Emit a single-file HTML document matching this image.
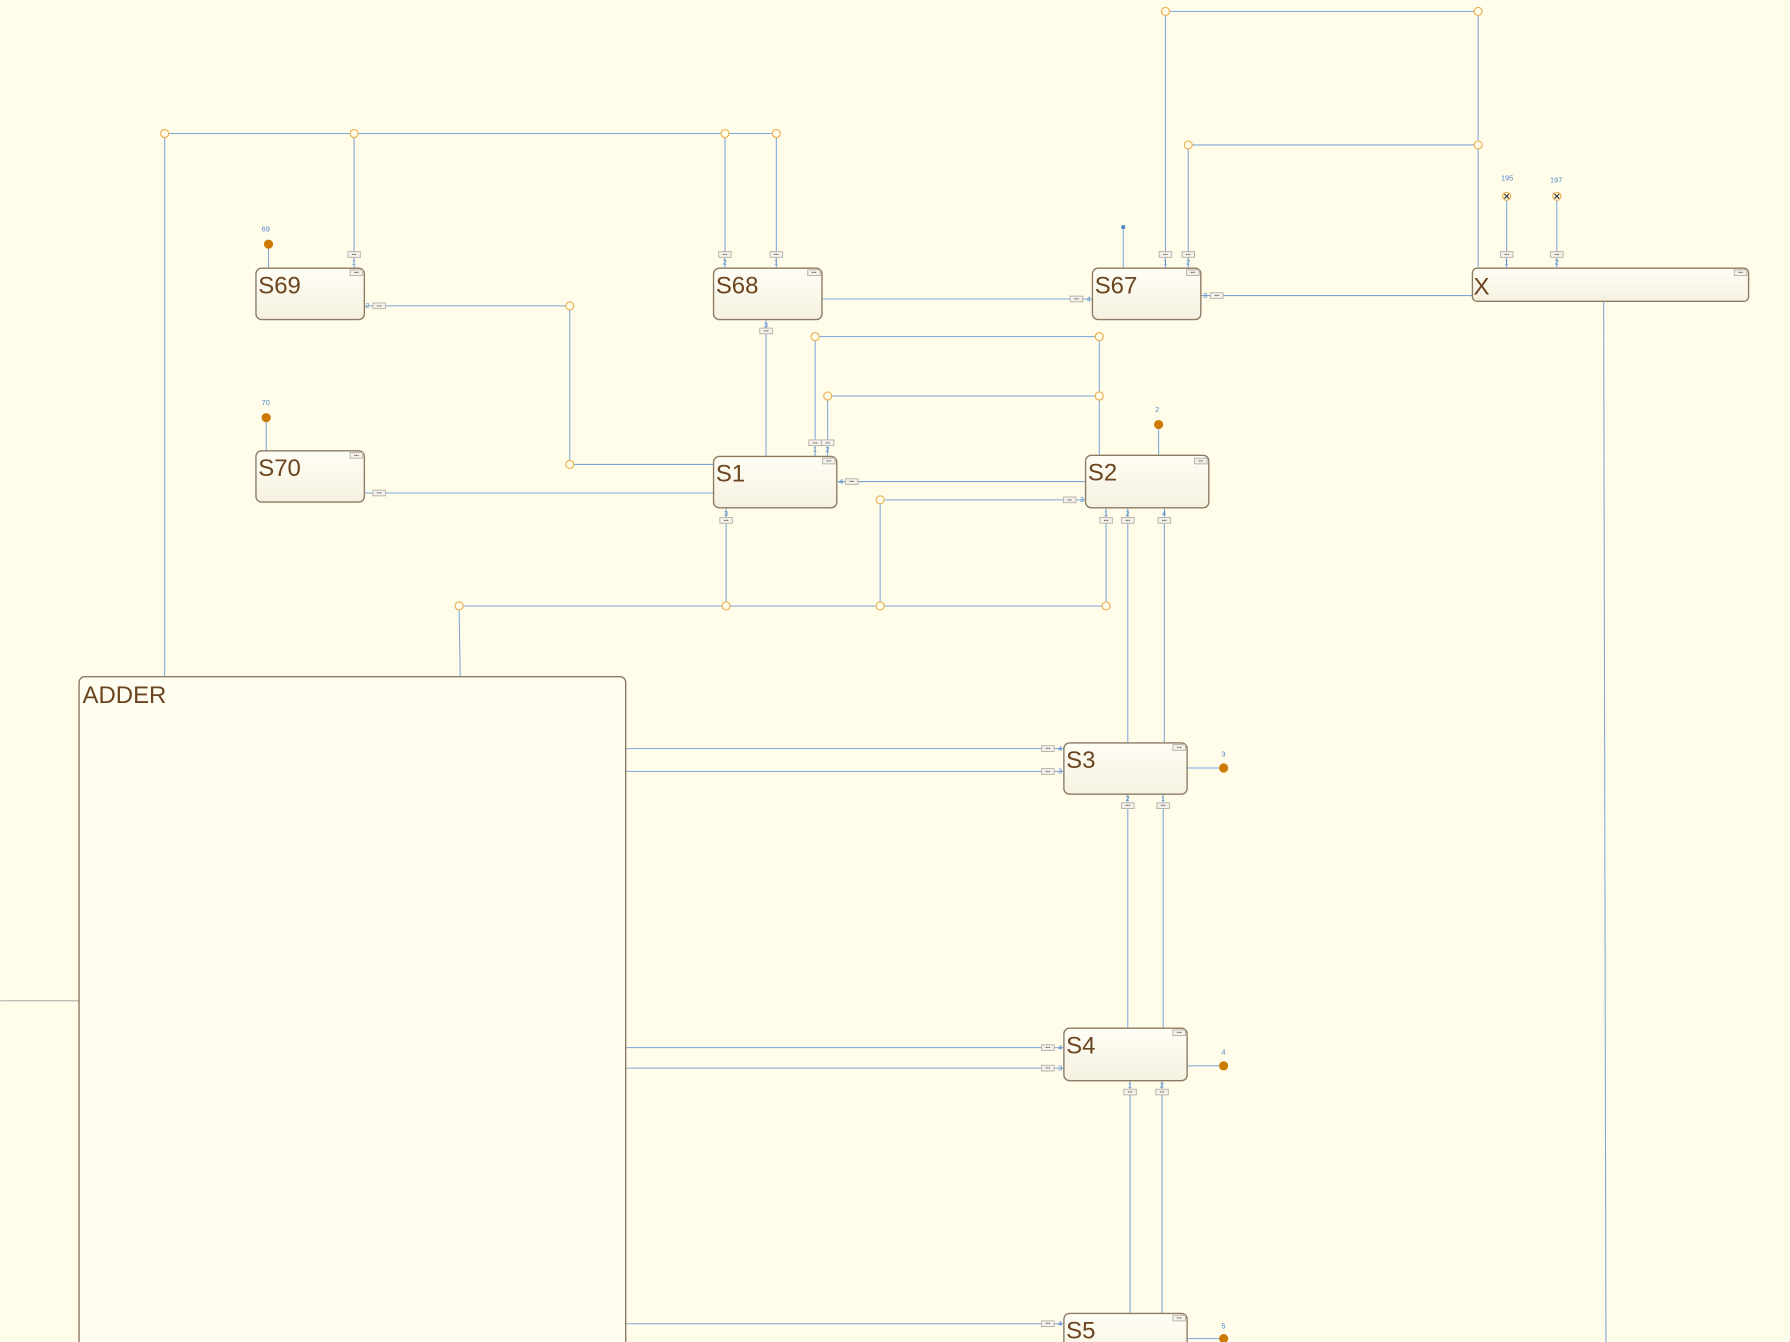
<!DOCTYPE html>
<html><head><meta charset="utf-8"><style>
html,body{margin:0;padding:0;background:#fffcea;}
svg{display:block}
.st{fill:url(#g);stroke:#8c7b63;stroke-width:1.2}
.t{font-family:"Liberation Sans",sans-serif;fill:#6b4420;font-size:21px}
.l{stroke:#7aa6d8;stroke-width:0.9;fill:none}
.j{fill:#fffcea;stroke:#e8b050;stroke-width:1}
.d{fill:#cc7a00}
.n{font-family:"Liberation Sans",sans-serif;fill:#4f86c6;font-size:6.5px}
</style></head><body>
<svg width="1790" height="1342" viewBox="0 0 1568 1176">
<defs>
<linearGradient id="g" x1="0" y1="0" x2="0" y2="1"><stop offset="0" stop-color="#fffef5"/><stop offset="1" stop-color="#f5f1e0"/></linearGradient>
<g id="b"><rect x="-5.5" y="-2.5" width="11" height="5" fill="#f4f0ea" stroke="#b8b0a8" stroke-width="0.8"/><text x="0" y="1.3" font-size="4" text-anchor="middle" fill="#666" font-family="Liberation Sans,sans-serif">•••</text></g>
</defs>
<rect width="1568" height="1176" fill="#fffcea"/>
<line x1="0" y1="877" x2="69" y2="877" stroke="#9a9a9a" stroke-width="0.8"/>
<g class="l">
<path d="M144 117V593M144 117H680M310 117V235M635 117V235M680 117V235"/>
<path d="M319 268H499V407H625M319 432H625M671 280V400"/>
<path d="M714 400V295H963V399M725 400V347H963M733 422H951"/>
<path d="M951 438H771V531M636 445V531M402 531H969M969 445V531M402 531L403 593"/>
<path d="M988 445V651M1020 445V651M932 656H548M932 676H548M1040 673H1072"/>
<path d="M988 696V901M1019 696V901M932 918H548M932 936H548M1040 934H1072"/>
<path d="M990 947V1176M1018 947V1176M932 1160H548M1040 1173H1072"/>
<path d="M720 262H957M1052 259H1290M1021 235V10H1295V235M1041 235V127H1295"/>
<path d="M1320 172V235M1364 172V235M1405 264L1407 1176M984 199V235M235 214V235M233 366V395M1015 372V399"/>
</g>
<rect x="69" y="593" width="479" height="620" rx="5" fill="#fffdf0" stroke="#8c7b63" stroke-width="1.2"/>
<text class="t" x="72" y="616">ADDER</text>
<rect class="st" x="224" y="235" width="95" height="45" rx="5"/><text class="t" x="226" y="257">S69</text>
<rect class="st" x="625" y="235" width="95" height="45" rx="5"/><text class="t" x="627" y="257">S68</text>
<rect class="st" x="957" y="235" width="95" height="45" rx="5"/><text class="t" x="959" y="257">S67</text>
<rect class="st" x="1290" y="235" width="242" height="29" rx="4"/><text class="t" x="1291" y="258">X</text>
<rect class="st" x="224" y="395" width="95" height="45" rx="5"/><text class="t" x="226" y="417">S70</text>
<rect class="st" x="625" y="400" width="108" height="45" rx="5"/><text class="t" x="627" y="422">S1</text>
<rect class="st" x="951" y="399" width="108" height="46" rx="5"/><text class="t" x="953" y="421">S2</text>
<rect class="st" x="932" y="651" width="108" height="45" rx="5"/><text class="t" x="934" y="673">S3</text>
<rect class="st" x="932" y="901" width="108" height="46" rx="5"/><text class="t" x="934" y="923">S4</text>
<rect class="st" x="932" y="1151" width="108" height="45" rx="5"/><text class="t" x="934" y="1173">S5</text>
<use href="#b" x="312" y="239"/><use href="#b" x="713" y="239"/><use href="#b" x="1045" y="239"/><use href="#b" x="1525" y="239"/>
<use href="#b" x="312" y="399"/><use href="#b" x="726" y="404"/><use href="#b" x="1052" y="404"/><use href="#b" x="1033" y="655"/><use href="#b" x="1033" y="905"/><use href="#b" x="1033" y="1155"/>
<use href="#b" x="310" y="223"/><use href="#b" x="635" y="223"/><use href="#b" x="680" y="223"/><use href="#b" x="332" y="268"/><use href="#b" x="332" y="432"/>
<use href="#b" x="671" y="290"/><use href="#b" x="714" y="388"/><use href="#b" x="725" y="388"/><use href="#b" x="746" y="422"/><use href="#b" x="937" y="438"/>
<use href="#b" x="636" y="456"/><use href="#b" x="969" y="456"/><use href="#b" x="988" y="456"/><use href="#b" x="1020" y="456"/>
<use href="#b" x="918" y="656"/><use href="#b" x="918" y="676"/><use href="#b" x="988" y="706"/><use href="#b" x="1019" y="706"/>
<use href="#b" x="918" y="918"/><use href="#b" x="918" y="936"/><use href="#b" x="990" y="957"/><use href="#b" x="1018" y="957"/><use href="#b" x="918" y="1160"/>
<use href="#b" x="943" y="262"/><use href="#b" x="1066" y="259"/><use href="#b" x="1021" y="223"/><use href="#b" x="1041" y="223"/><use href="#b" x="1320" y="223"/><use href="#b" x="1364" y="223"/>
<g class="j">
<circle cx="144" cy="117" r="3.5"/><circle cx="310" cy="117" r="3.5"/><circle cx="635" cy="117" r="3.5"/><circle cx="680" cy="117" r="3.5"/>
<circle cx="499" cy="268" r="3.5"/><circle cx="499" cy="407" r="3.5"/><circle cx="714" cy="295" r="3.5"/><circle cx="963" cy="295" r="3.5"/>
<circle cx="725" cy="347" r="3.5"/><circle cx="963" cy="347" r="3.5"/><circle cx="771" cy="438" r="3.5"/><circle cx="402" cy="531" r="3.5"/>
<circle cx="636" cy="531" r="3.5"/><circle cx="771" cy="531" r="3.5"/><circle cx="969" cy="531" r="3.5"/><circle cx="1021" cy="10" r="3.5"/>
<circle cx="1295" cy="10" r="3.5"/><circle cx="1041" cy="127" r="3.5"/><circle cx="1295" cy="127" r="3.5"/>
<circle cx="1320" cy="172" r="3.5"/><circle cx="1364" cy="172" r="3.5"/>
</g>
<path d="M1318 170l4 4M1322 170l-4 4M1362 170l4 4M1366 170l-4 4" stroke="#333" stroke-width="1"/>
<circle class="d" cx="235" cy="214" r="4"/><circle class="d" cx="233" cy="366" r="4"/><circle class="d" cx="1015" cy="372" r="4"/>
<circle class="d" cx="1072" cy="673" r="4"/><circle class="d" cx="1072" cy="934" r="4"/><circle class="d" cx="1072" cy="1173" r="4"/>
<circle cx="984" cy="199" r="1.8" fill="#4f86c6"/>
<text class="n" x="229" y="203">69</text><text class="n" x="229" y="355">70</text><text class="n" x="1012" y="361">2</text>
<text class="n" x="1070" y="663">3</text><text class="n" x="1070" y="924">4</text><text class="n" x="1070" y="1164">5</text>
<text class="n" x="1315" y="158">195</text><text class="n" x="1358" y="160">197</text>
<text class="n" x="320" y="270">2</text><text class="n" x="633" y="232">2</text><text class="n" x="678" y="232">1</text><text class="n" x="308" y="232">1</text>
<text class="n" x="669" y="287">3</text><text class="n" x="712" y="396">1</text><text class="n" x="723" y="396">2</text><text class="n" x="735" y="424">4</text>
<text class="n" x="946" y="440">3</text><text class="n" x="634" y="452">3</text><text class="n" x="967" y="452">1</text><text class="n" x="986" y="452">2</text><text class="n" x="1018" y="452">4</text>
<text class="n" x="927" y="658">4</text><text class="n" x="927" y="678">3</text><text class="n" x="986" y="702">2</text><text class="n" x="1017" y="702">1</text>
<text class="n" x="927" y="920">4</text><text class="n" x="927" y="938">3</text><text class="n" x="988" y="953">1</text><text class="n" x="1016" y="953">2</text><text class="n" x="927" y="1162">4</text>
<text class="n" x="952" y="264">4</text><text class="n" x="1054" y="261">3</text><text class="n" x="1019" y="232">1</text><text class="n" x="1039" y="232">2</text>
<text class="n" x="1318" y="232">1</text><text class="n" x="1362" y="232">2</text>
</svg>
</body></html>
